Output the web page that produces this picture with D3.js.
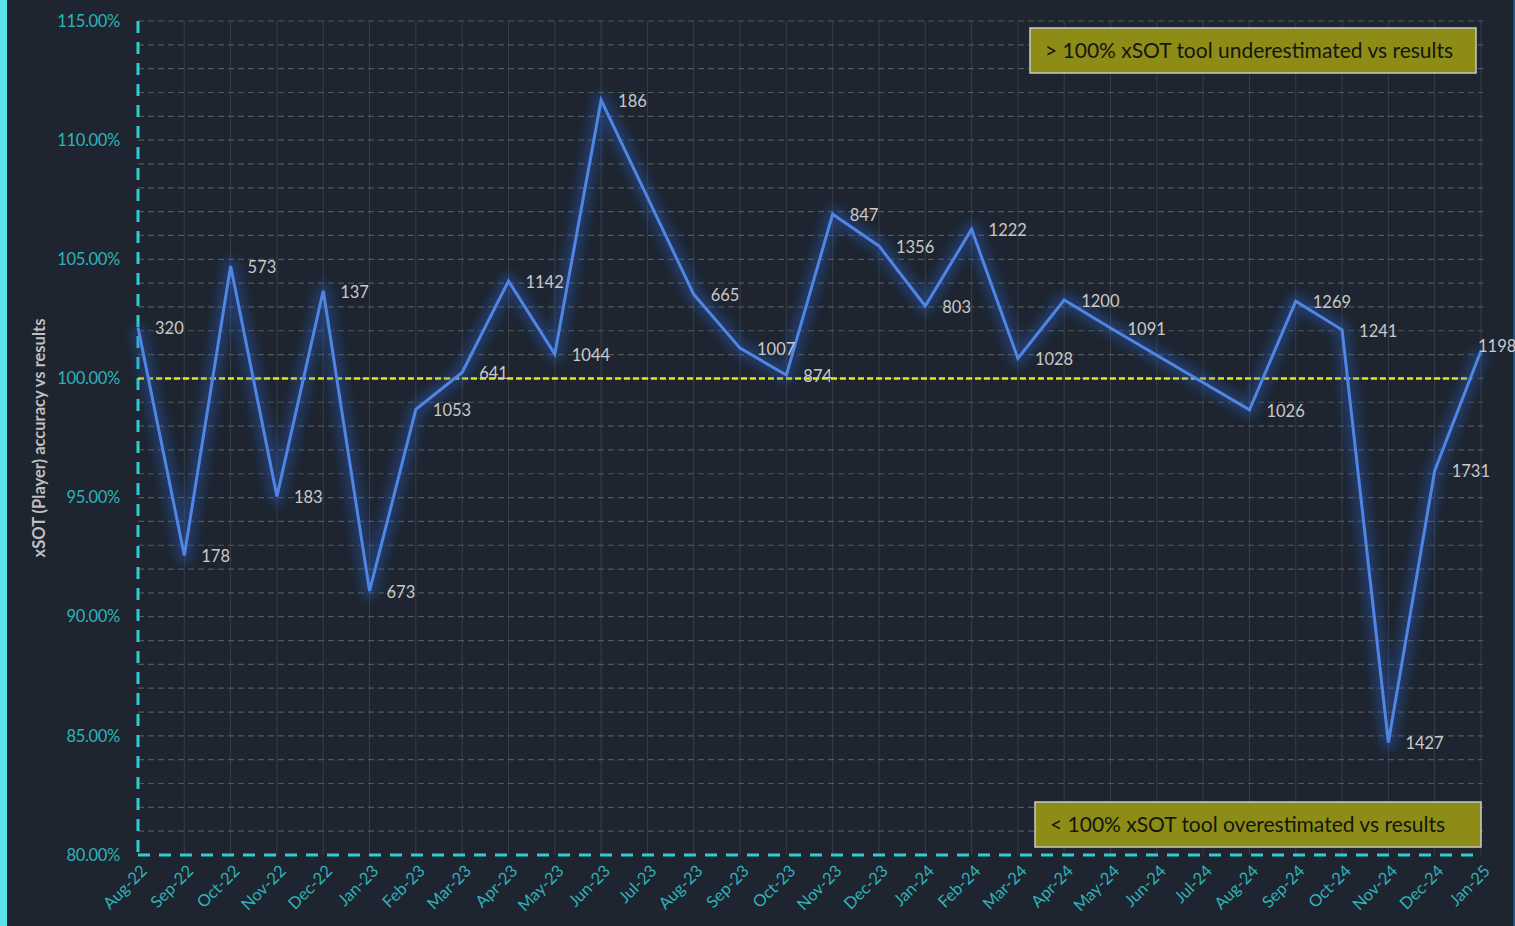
<!DOCTYPE html>
<html>
<head>
<meta charset="utf-8">
<script src="https://cdn.jsdelivr.net/npm/d3@7"></script>
<style>
  body { margin: 0; background: #1e2530; overflow: hidden; }
  text { font-family: Lato, "Open Sans", sans-serif; }
</style>
</head>
<body>
<script>
// months on the x axis
const months = ["Aug-22","Sep-22","Oct-22","Nov-22","Dec-22","Jan-23","Feb-23","Mar-23","Apr-23","May-23",
  "Jun-23","Jul-23","Aug-23","Sep-23","Oct-23","Nov-23","Dec-23","Jan-24","Feb-24","Mar-24",
  "Apr-24","May-24","Jun-24","Jul-24","Aug-24","Sep-24","Oct-24","Nov-24","Dec-24","Jan-25"]
// accuracy in %, null = no data that month
const accuracy = [102.14, 92.57, 104.72, 95.05, 103.68, 91.08, 98.7, 100.25, 104.09, 101.02,
  111.68, null, 103.53, 101.27, 100.14, 106.89, 105.56, 103.04, 106.26, 100.84,
  103.29, 102.12, null, null, 98.68, 103.24, 102.04, 84.72, 96.13, 101.16]
// number of shots per month (data labels)
const counts = [320, 178, 573, 183, 137, 673, 1053, 641, 1142, 1044,
  186, null, 665, 1007, 874, 847, 1356, 803, 1222, 1028,
  1200, 1091, null, null, 1026, 1269, 1241, 1427, 1731, 1198]
const yTicks = [80, 85, 90, 95, 100, 105, 110, 115]

let w = 1515, h = 926
let mLeft = 138, mRight = 1481, mTop = 21, mBottom = 855

let svg = d3.select("body").append("svg")
  .attr("width", w).attr("height", h)

svg.append("rect").attr("width", w).attr("height", h).attr("fill", "#1e2530")
svg.append("rect").attr("x", 0).attr("y", 0).attr("width", 7).attr("height", h).attr("fill", "#5ce1e6")
svg.append("rect").attr("x", 1513).attr("y", 0).attr("width", 2).attr("height", h).attr("fill", "#1d4f93")

let x = d3.scalePoint().domain(months).range([mLeft, mRight])
let y = d3.scaleLinear().domain([80, 115]).range([mBottom, mTop])

let defs = svg.append("defs")
let glow = defs.append("filter").attr("id", "glow")
  .attr("x", "-20%").attr("y", "-20%").attr("width", "140%").attr("height", "140%")
glow.append("feGaussianBlur").attr("stdDeviation", 5)

// vertical grid
svg.append("g").selectAll("line")
  .data(months.slice(1))
  .enter().append("line")
  .attr("x1", d => x(d)).attr("x2", d => x(d))
  .attr("y1", mTop).attr("y2", mBottom)
  .attr("stroke", "#383e47").attr("stroke-width", 1)

// horizontal grid, every 1%
svg.append("g").selectAll("line")
  .data(d3.range(81, 116))
  .enter().append("line")
  .attr("x1", mLeft).attr("x2", mRight + 2)
  .attr("y1", d => y(d)).attr("y2", d => y(d))
  .attr("stroke", "#4e5a55").attr("stroke-width", 1.2)
  .attr("stroke-dasharray", "6,4")

// y axis labels
svg.append("g").selectAll("text")
  .data(yTicks)
  .enter().append("text")
  .attr("x", 120).attr("y", d => y(d))
  .attr("dy", "0.35em")
  .attr("text-anchor", "end")
  .attr("fill", "#2fb3b8")
  .attr("font-size", 16.5)
  .attr("letter-spacing", "-0.3")
  .text(d => d.toFixed(2) + "%")

// x axis labels
svg.append("g").selectAll("text")
  .data(months)
  .enter().append("text")
  .attr("transform", d => "translate(" + (x(d) + 6) + "," + (mBottom + 13) + ") rotate(-45)")
  .attr("text-anchor", "end")
  .attr("dy", "0.35em")
  .attr("fill", "#2fb3b8")
  .attr("font-size", 16.5)
  .text(d => d)

svg.append("text")
  .attr("transform", "translate(39,438) rotate(-90)")
  .attr("text-anchor", "middle")
  .attr("dy", "0.35em")
  .attr("fill", "#bfbfbf")
  .attr("font-size", 16.5)
  .attr("font-weight", "bold")
  .text("xSOT (Player) accuracy vs results")

// axes as dashed cyan lines
svg.append("line")
  .attr("x1", mLeft).attr("x2", mLeft).attr("y1", mTop).attr("y2", mBottom)
  .attr("stroke", "#2ccfd0").attr("stroke-width", 3).attr("stroke-dasharray", "12,9")
svg.append("line")
  .attr("x1", mLeft).attr("x2", mRight).attr("y1", mBottom).attr("y2", mBottom)
  .attr("stroke", "#2ccfd0").attr("stroke-width", 3).attr("stroke-dasharray", "12,9")

// 100% reference
svg.append("line")
  .attr("x1", mLeft).attr("x2", 1472).attr("y1", y(100)).attr("y2", y(100))
  .attr("stroke", "#e6e619").attr("stroke-width", 2.5).attr("stroke-dasharray", "6,3")

let pts = months.map((m, i) => ({ m: m, v: accuracy[i], n: counts[i] })).filter(d => d.v !== null)

let line = d3.line().x(d => x(d.m)).y(d => y(d.v))

svg.append("path").datum(pts)
  .attr("d", line)
  .attr("fill", "none")
  .attr("stroke", "#2a5fc8")
  .attr("stroke-width", 16)
  .attr("stroke-opacity", 0.35)
  .attr("stroke-linejoin", "round")
  .attr("filter", "url(#glow)")

svg.append("path").datum(pts)
  .attr("d", line)
  .attr("fill", "none")
  .attr("stroke", "#4f86e4")
  .attr("stroke-width", 3)

let last = pts[pts.length - 1]
svg.append("g").selectAll("text")
  .data(pts)
  .enter().append("text")
  .attr("x", d => d === last ? x(d.m) - 3 : x(d.m) + 17)
  .attr("y", d => d === last ? y(d.v) - 5 : y(d.v) + 1)
  .attr("dy", "0.35em")
  .attr("fill", "#c9c9c9")
  .attr("font-size", 16.5)
  .text(d => d.n)

// note boxes
let notes = [
  { text: "> 100% xSOT tool underestimated vs results", x: 1030, y: 28 },
  { text: "< 100% xSOT tool overestimated vs results", x: 1035, y: 802 }
]
let nb = svg.append("g").selectAll("g").data(notes).enter().append("g")
  .attr("transform", d => "translate(" + d.x + "," + d.y + ")")
nb.append("rect")
  .attr("width", 446).attr("height", 45)
  .attr("fill", "#8c8c16").attr("stroke", "#c9c9c9").attr("stroke-width", 1.5)
nb.append("text")
  .attr("x", 15).attr("y", 23).attr("dy", "0.35em")
  .attr("fill", "#15160d")
  .attr("font-size", 21)
  .text(d => d.text)
</script>
</body>
</html>
